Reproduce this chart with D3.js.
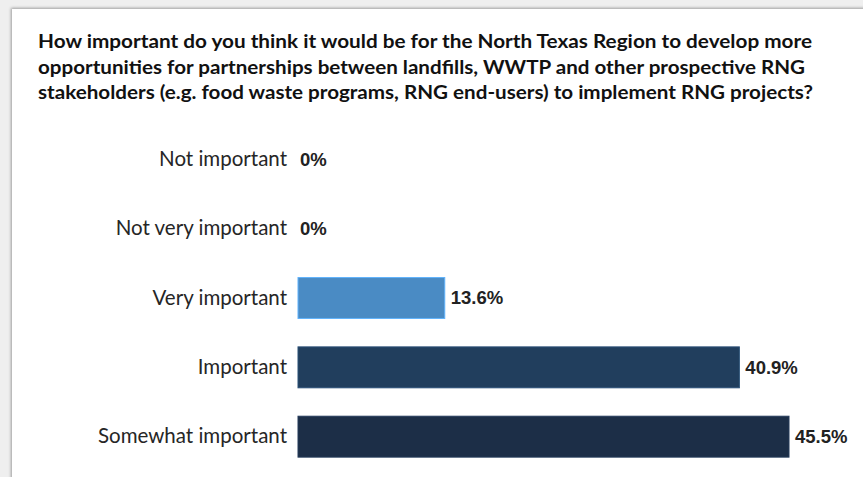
<!DOCTYPE html>
<html>
<head>
<meta charset="utf-8">
<script src="https://cdn.jsdelivr.net/npm/d3@7"></script>
<style>
  html, body { margin: 0; padding: 0; background: #efefef; }
  svg { display: block; }
</style>
</head>
<body>
<svg id="chart" width="863" height="477"></svg>
<script>
// Survey question and responses
const titleLines = [
  "How important do you think it would be for the North Texas Region to develop more",
  "opportunities for partnerships between landfills, WWTP and other prospective RNG",
  "stakeholders (e.g. food waste programs, RNG end-users) to implement RNG projects?"
];
const categories = ["Not important", "Not very important", "Very important", "Important", "Somewhat important"];
const values = [0, 0, 13.6, 40.9, 45.5];
const valueLabels = ["0%", "0%", "13.6%", "40.9%", "45.5%"];
const barColors = ["#4a8bc4", "#4a8bc4", "#4a8bc4", "#213e5d", "#1c2e47"];

const svg = d3.select("#chart");
const W = 863, H = 477;

// Card with soft shadow
const defs = svg.append("defs");
const f = defs.append("filter").attr("id", "shadow").attr("x", "-5%").attr("y", "-5%").attr("width", "110%").attr("height", "110%");
f.append("feDropShadow").attr("dx", -1).attr("dy", -1).attr("stdDeviation", 1.6).attr("flood-color", "#000").attr("flood-opacity", 0.35);

svg.append("rect").attr("width", W).attr("height", H).attr("fill", "#efefef");
svg.append("rect").attr("x", 12).attr("y", 9).attr("width", W).attr("height", H)
  .attr("fill", "#ffffff").attr("filter", "url(#shadow)");

// Title
const titleFont = "Lato, 'Open Sans', sans-serif";
const titleWidths = [774, 767, 775];
svg.append("g").selectAll("text").data(titleLines).join("text")
  .attr("x", 38)
  .attr("y", (d, i) => 48 + i * 25.5)
  .attr("font-family", titleFont)
  .attr("font-weight", 700)
  .attr("font-size", 18)
  .attr("fill", "#111")
  .attr("textLength", (d, i) => titleWidths[i])
  .attr("lengthAdjust", "spacingAndGlyphs")
  .text(d => d);

// Scales
const x = d3.scaleLinear().domain([0, 45.5]).range([298, 789]);
const y = d3.scaleBand().domain(categories).range([125, 471]).paddingInner(0.41).paddingOuter(0.2);

// Category axis (labels only)
const yAxis = d3.axisLeft(y).tickSize(0).tickPadding(11);
const axisG = svg.append("g").attr("transform", `translate(${x(0)},0)`).call(yAxis);
axisG.select(".domain").remove();
axisG.selectAll("text")
  .attr("font-family", "Lato, 'Open Sans', sans-serif")
  .attr("font-size", 20.5)
  .attr("fill", "#262626");

// Bars
svg.append("g").selectAll("rect").data(categories).join("rect")
  .attr("x", x(0))
  .attr("y", d => y(d))
  .attr("width", (d, i) => Math.max(0, x(values[i]) - x(0)))
  .attr("height", y.bandwidth())
  .attr("fill", (d, i) => barColors[i])
  .attr("stroke", (d, i) => d3.color(barColors[i]).brighter(0.7))
  .attr("stroke-width", (d, i) => values[i] > 0 ? 1 : 0);

// Value labels
svg.append("g").selectAll("text").data(categories).join("text")
  .attr("x", (d, i) => x(values[i]) + (values[i] > 0 ? 6 : 2))
  .attr("y", d => y(d) + y.bandwidth() / 2)
  .attr("dy", "0.35em")
  .attr("font-family", "'Liberation Sans', Arial, sans-serif")
  .attr("font-weight", 700)
  .attr("font-size", 18.5)
  .attr("fill", "#222")
  .text((d, i) => valueLabels[i]);
</script>
</body>
</html>
